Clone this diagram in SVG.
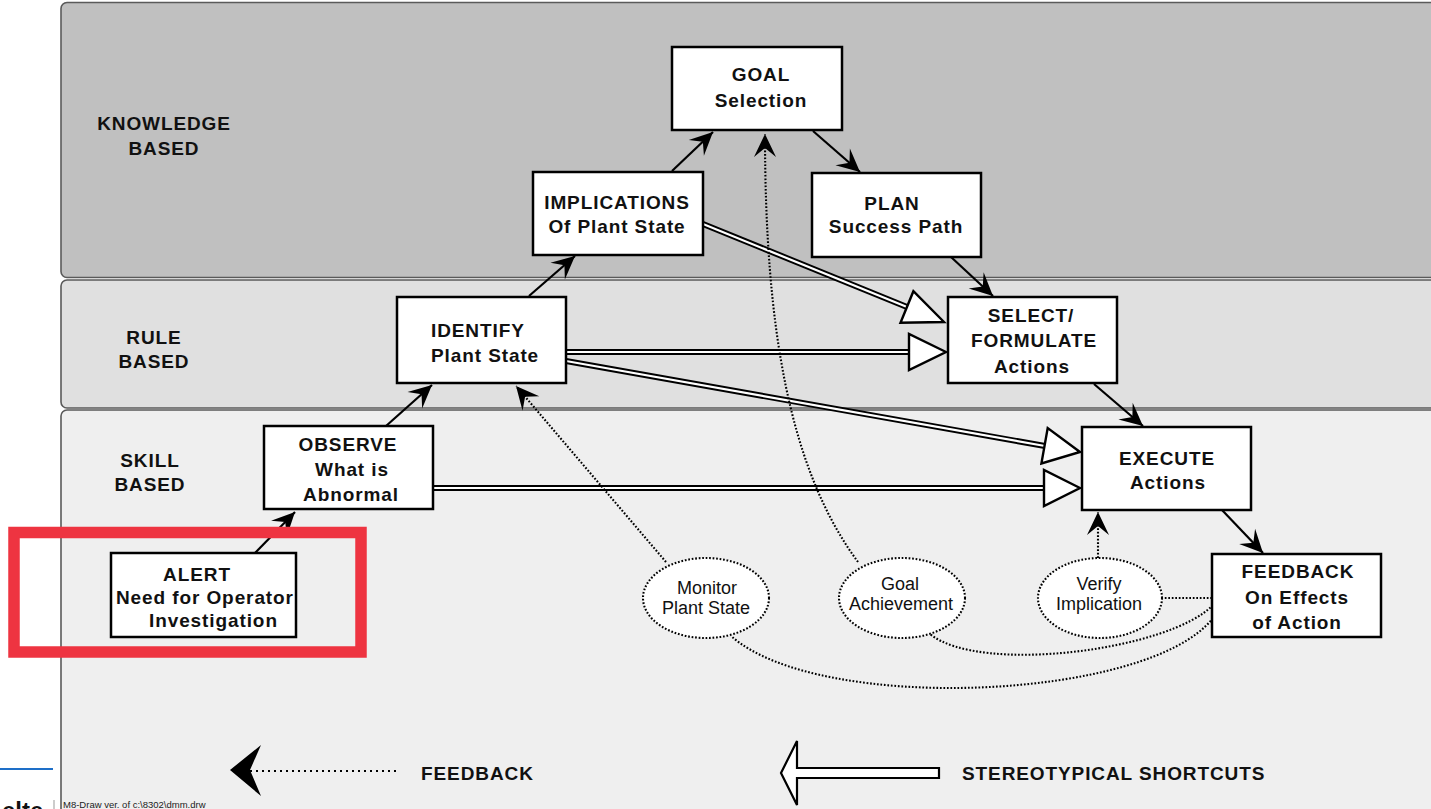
<svg xmlns="http://www.w3.org/2000/svg" width="1431" height="809" viewBox="0 0 1431 809">
  <defs>
    <style>
      .band { stroke: #5a5a5a; stroke-width: 1.6; }
      .box { fill: #ffffff; stroke: #000000; stroke-width: 2.5; }
      .ell { fill: #ffffff; stroke: #000000; stroke-width: 2.1; stroke-dasharray: 1.7 1.8; }
      .lbl { font-family: "Liberation Sans", Arial, sans-serif; font-weight: bold; font-size: 19px; letter-spacing: 0.9px; fill: #111111; }
      .lbl-c { text-anchor: middle; }
      .etxt { font-family: "Liberation Sans", Arial, sans-serif; font-size: 18px; fill: #111111; text-anchor: middle; }
      .solid { fill: none; stroke: #000000; stroke-width: 2.2; marker-end: url(#barb); }
      .dot { fill: none; stroke: #000000; stroke-width: 2.1; stroke-dasharray: 1.7 1.8; }
      .dot-arr { marker-end: url(#barb); }
      .shaft-o { stroke: #000000; stroke-width: 6; fill: none; }
      .shaft-i { stroke: #ffffff; stroke-width: 2.2; fill: none; }
      .head { fill: #ffffff; stroke: #000000; stroke-width: 2.4; stroke-linejoin: miter; }
    </style>
    <marker id="barb" viewBox="-25 -12 27 24" refX="0" refY="0" markerWidth="27" markerHeight="24" markerUnits="userSpaceOnUse" orient="auto">
      <path d="M0,0 L-23,-11 L-14,0 L-23,11 Z" fill="#000000"/>
    </marker>
  </defs>

  <!-- page background -->
  <rect x="0" y="0" width="1431" height="809" fill="#ffffff"/>

  <!-- performance level bands -->
  <g id="bands">
    <rect class="band" x="61" y="2.5" width="1420" height="275" rx="6" fill="#c0c0c0"/>
    <rect class="band" x="61" y="280" width="1420" height="128" rx="6" fill="#e0e0e0"/>
    <rect class="band" x="61" y="410" width="1420" height="430" rx="6" fill="#efefef"/>
    <text class="lbl lbl-c" x="164" y="130">KNOWLEDGE</text>
    <text class="lbl lbl-c" x="164" y="155">BASED</text>
    <text class="lbl lbl-c" x="154" y="344">RULE</text>
    <text class="lbl lbl-c" x="154" y="368">BASED</text>
    <text class="lbl lbl-c" x="150" y="467">SKILL</text>
    <text class="lbl lbl-c" x="150" y="491">BASED</text>
  </g>

  <!-- connectors -->
  <g id="connectors">
    <!-- stereotypical shortcuts (hollow double-line arrows) -->
    <line class="shaft-o" x1="703" y1="224" x2="907" y2="307"/>
    <line class="shaft-i" x1="703" y1="224" x2="907" y2="307"/>
    <polygon class="head" points="944,322 913.4,291.2 900.5,322.7"/>

    <line class="shaft-o" x1="566" y1="352" x2="910" y2="352"/>
    <line class="shaft-i" x1="566" y1="352" x2="910" y2="352"/>
    <polygon class="head" points="946,352 909,334 909,370"/>

    <line class="shaft-o" x1="566" y1="361" x2="1045" y2="446"/>
    <line class="shaft-i" x1="566" y1="361" x2="1045" y2="446"/>
    <polygon class="head" points="1080,452 1047.7,428 1041.4,463.5"/>

    <line class="shaft-o" x1="433" y1="488" x2="1045" y2="488"/>
    <line class="shaft-i" x1="433" y1="488" x2="1045" y2="488"/>
    <polygon class="head" points="1080,488 1044,470 1044,506"/>

    <!-- main step sequence -->
    <path class="solid" d="M255,553 L295,512"/>
    <path class="solid" d="M386,426 L432,385"/>
    <path class="solid" d="M529,296 L575,256"/>
    <path class="solid" d="M672,171 L713,132"/>
    <path class="solid" d="M813,131 L860,172"/>
    <path class="solid" d="M951,257 L993,296"/>
    <path class="solid" d="M1094,384 L1143,426"/>
    <path class="solid" d="M1222,510 L1263,553"/>

    <!-- feedback paths -->
    <path class="dot dot-arr" d="M666,562 L516,386"/>
    <path class="dot dot-arr" d="M858,562 C790,470 765,330 765,134"/>
    <path class="dot dot-arr" d="M1098,558 L1098,512"/>
    <path class="dot" d="M1212,598 L1162,598"/>
    <path class="dot" d="M1213,605 C1170,650 980,675 930,634"/>
    <path class="dot" d="M1213,618 C1150,700 820,715 731,636"/>
  </g>

  <!-- process steps -->
  <g id="goal">
    <rect class="box" x="672" y="47" width="170" height="83"/>
    <text class="lbl lbl-c" x="761" y="81">GOAL</text>
    <text class="lbl lbl-c" x="761" y="107">Selection</text>
  </g>
  <g id="implications">
    <rect class="box" x="533" y="172" width="170" height="83"/>
    <text class="lbl lbl-c" x="617" y="209">IMPLICATIONS</text>
    <text class="lbl lbl-c" x="617" y="233">Of Plant State</text>
  </g>
  <g id="plan">
    <rect class="box" x="812" y="173" width="169" height="84"/>
    <text class="lbl lbl-c" x="892" y="210">PLAN</text>
    <text class="lbl lbl-c" x="896" y="233">Success Path</text>
  </g>
  <g id="identify">
    <rect class="box" x="397" y="297" width="169" height="86"/>
    <text class="lbl" x="431" y="337">IDENTIFY</text>
    <text class="lbl" x="431" y="362">Plant State</text>
  </g>
  <g id="select">
    <rect class="box" x="948" y="297" width="169" height="86"/>
    <text class="lbl lbl-c" x="1031" y="322">SELECT/</text>
    <text class="lbl lbl-c" x="1034" y="347">FORMULATE</text>
    <text class="lbl lbl-c" x="1032" y="373">Actions</text>
  </g>
  <g id="observe">
    <rect class="box" x="264" y="426" width="169" height="83"/>
    <text class="lbl lbl-c" x="348" y="451">OBSERVE</text>
    <text class="lbl lbl-c" x="352" y="476">What is</text>
    <text class="lbl lbl-c" x="351" y="501">Abnormal</text>
  </g>
  <g id="execute">
    <rect class="box" x="1082" y="427" width="169" height="83"/>
    <text class="lbl lbl-c" x="1167" y="465">EXECUTE</text>
    <text class="lbl lbl-c" x="1168" y="489">Actions</text>
  </g>
  <g id="feedback">
    <rect class="box" x="1212" y="554" width="169" height="83"/>
    <text class="lbl lbl-c" x="1298" y="578">FEEDBACK</text>
    <text class="lbl lbl-c" x="1297" y="604">On Effects</text>
    <text class="lbl lbl-c" x="1297" y="629">of Action</text>
  </g>
  <g id="alert">
    <rect class="box" x="111" y="553" width="185" height="84"/>
    <text class="lbl lbl-c" x="197" y="581">ALERT</text>
    <text class="lbl" x="116" y="604">Need for Operator</text>
    <text class="lbl" x="149" y="627">Investigation</text>
  </g>

  <!-- feedback checks -->
  <g id="monitor">
    <ellipse class="ell" cx="706" cy="598" rx="63" ry="40"/>
    <text class="etxt" x="707" y="594">Monitor</text>
    <text class="etxt" x="706" y="614">Plant State</text>
  </g>
  <g id="goal-achievement">
    <ellipse class="ell" cx="902" cy="598" rx="63" ry="40"/>
    <text class="etxt" x="900" y="590">Goal</text>
    <text class="etxt" x="901" y="610">Achievement</text>
  </g>
  <g id="verify">
    <ellipse class="ell" cx="1100" cy="598" rx="62" ry="40"/>
    <text class="etxt" x="1099" y="590">Verify</text>
    <text class="etxt" x="1099" y="610">Implication</text>
  </g>

  <!-- highlight frame -->
  <rect x="14" y="532.5" width="347" height="119.5" fill="none" stroke="#ee3441" stroke-width="11.5"/>

  <!-- legend -->
  <g id="legend">
    <path d="M250,771 L398,771" fill="none" stroke="#000000" stroke-width="2" stroke-dasharray="2 4"/>
    <path d="M230,770 L261,745 L250,770 L261,796 Z" fill="#000000"/>
    <text class="lbl" x="421" y="780">FEEDBACK</text>
    <path d="M781,773 L797,741 L797,768 L939,768 L939,778 L797,778 L797,805 Z" fill="#ffffff" stroke="#000000" stroke-width="2.2" stroke-linejoin="miter"/>
    <text class="lbl" x="962" y="780">STEREOTYPICAL SHORTCUTS</text>
  </g>

  <!-- page footer -->
  <line x1="0" y1="769" x2="53" y2="769" stroke="#1e6fc8" stroke-width="2"/>
  <text x="2" y="819" font-family="Liberation Sans, Arial, sans-serif" font-weight="bold" font-size="24" fill="#111111">elte</text>
  <line x1="54" y1="800" x2="54" y2="809" stroke="#999999" stroke-width="1"/>
  <text x="63" y="807.5" font-family="Liberation Sans, Arial, sans-serif" font-size="9.5" fill="#222222">M8-Draw ver. of c:\8302\dmm.drw</text>
</svg>
